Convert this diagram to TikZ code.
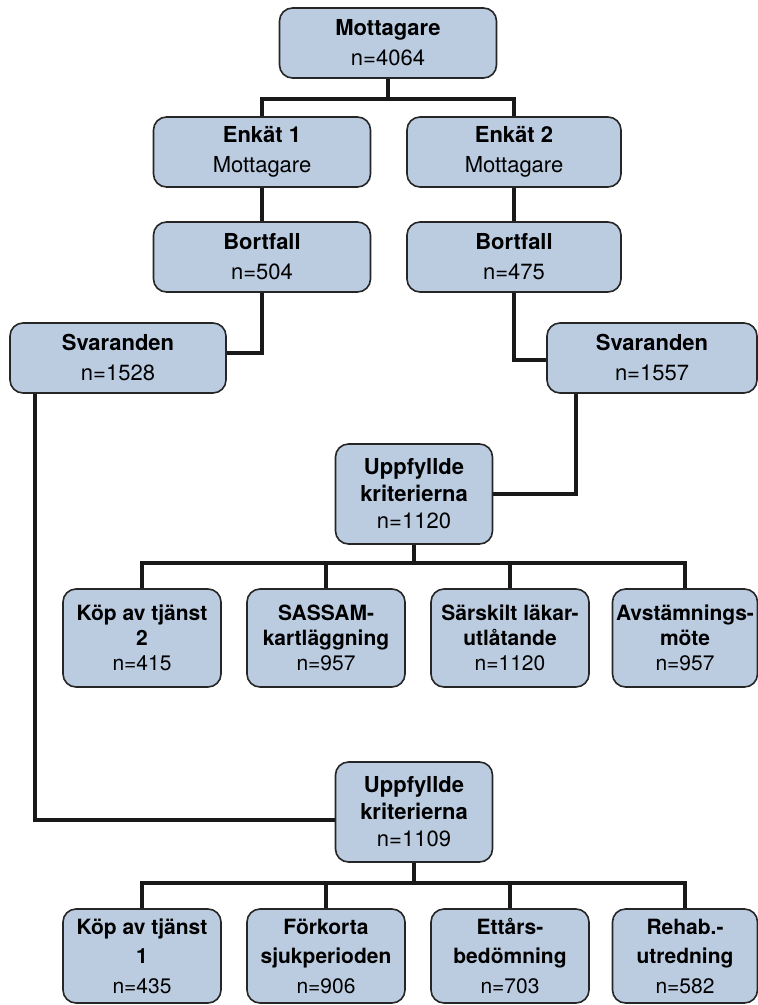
\documentclass[tikz,border=0pt]{standalone}
\usepackage{fontspec}
\setmainfont{TeX Gyre Heros}
\newcommand\hd[1]{\textbf{#1}}
\definecolor{boxblue}{RGB}{187,204,225}

\begin{document}
\begin{tikzpicture}[x=1pt,y=-1pt]
  \useasboundingbox (0,0) rectangle (758,1005);
  \tikzstyle{every node}=[draw=black!85,line width=1.6pt,fill=boxblue,
    rounded corners=13pt,align=center,inner sep=0pt,
    font=\fontsize{22}{30}\selectfont]
  \tikzstyle{wide}=[minimum width=217pt,minimum height=70pt]
  \tikzstyle{mid}=[minimum width=157pt,minimum height=100pt,
    font=\fontsize{22}{27}\selectfont]
  \tikzstyle{leafa}=[minimum width=158pt,minimum height=98pt,
    font=\fontsize{21}{25}\selectfont]
  \tikzstyle{leafb}=[minimum width=158pt,minimum height=94pt,
    font=\fontsize{21}{29.5}\selectfont]
  \tikzstyle{link}=[line width=4pt,black!90]

  \path (388,43) node[wide] (top) {\hd{Mottagare}\\n=4064};
  \path (262,152) node[wide] (enk1) {\hd{Enkät 1}\\Mottagare};
  \path (514,152) node[wide,minimum width=214pt] (enk2) {\hd{Enkät 2}\\Mottagare};
  \path (262,257) node[wide] (bort1) {\hd{Bortfall}\\n=504};
  \path (514,257) node[wide,minimum width=214pt] (bort2) {\hd{Bortfall}\\n=475};
  \path (118,358) node[wide,minimum width=216pt] (sv1) {\hd{Svaranden}\\n=1528};
  \path (652,358) node[wide,minimum width=210pt] (sv2) {\hd{Svaranden}\\n=1557};

  % enkät 2
  \path (414,494) node[mid] (upp1) {\hd{Uppfyllde}\\\hd{kriterierna}\\n=1120};
  \path (142,638) node[leafa] (a1) {\hd{Köp av tjänst}\\\hd{2}\\n=415};
  \path (326,638) node[leafa] (a2) {\hd{SASSAM-}\\\hd{kartläggning}\\n=957};
  \path (510,638) node[leafa] (a3) {\hd{Särskilt läkar-}\\\hd{utlåtande}\\n=1120};
  \path (685,638) node[leafa,minimum width=145pt] (a4) {\hd{Avstämnings-}\\\hd{möte}\\n=957};

  % enkät 1
  \path (414,812) node[mid] (upp2) {\hd{Uppfyllde}\\\hd{kriterierna}\\n=1109};
  \path (142,956) node[leafb] (b1) {\hd{Köp av tjänst}\\\hd{1}\\n=435};
  \path (326,956) node[leafb] (b2) {\hd{Förkorta}\\\hd{sjukperioden}\\n=906};
  \path (510,956) node[leafb] (b3) {\hd{Ettårs-}\\\hd{bedömning}\\n=703};
  \path (685,956) node[leafb,minimum width=145pt] (b4) {\hd{Rehab.-}\\\hd{utredning}\\n=582};

  \draw[link] (top.south) -- ++(0,20) -| (enk1.north)
              (top.south) -- ++(0,20) -| (enk2.north)
              (enk1) -- (bort1)
              (enk2) -- (bort2)
              (bort1.south) |- ([yshift=5pt]sv1.east)
              (bort2.south) |- ([yshift=-2pt]sv2.west)
              ([xshift=30pt]sv2.south west) |- (upp1.east)
              ([xshift=26pt]sv1.south west) |- ([yshift=-8pt]upp2.west);
  \draw[link] (upp1.south) -- ++(0,18) -| (a1.north)
              (upp1.south) -- ++(0,18) -| (a2.north)
              (upp1.south) -- ++(0,18) -| (a3.north)
              (upp1.south) -- ++(0,18) -| (a4.north);
  \draw[link] (upp2.south) -- ++(0,20) -| (b1.north)
              (upp2.south) -- ++(0,20) -| (b2.north)
              (upp2.south) -- ++(0,20) -| (b3.north)
              (upp2.south) -- ++(0,20) -| (b4.north);
\end{tikzpicture}
\end{document}
